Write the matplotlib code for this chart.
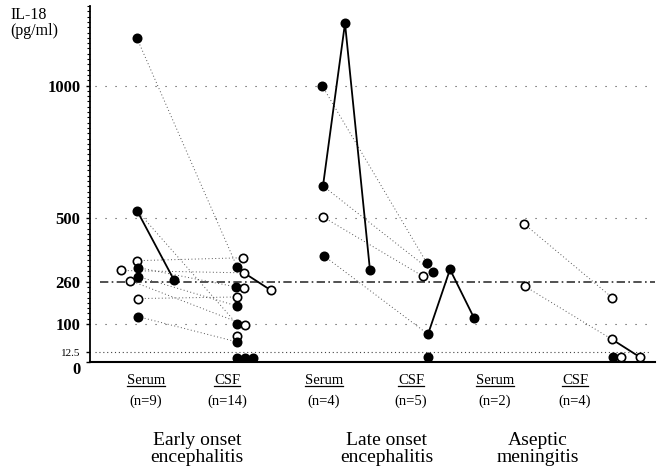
"""IL-18 in serum and CSF: paired dot plot (scanned journal figure)."""
import matplotlib
matplotlib.use("Agg")
import matplotlib.pyplot as plt
from matplotlib.lines import Line2D
import numpy as np

plt.rcParams["font.family"] = ["Liberation Serif", "DejaVu Serif"]

# ---------------------------------------------------------------------------
# Data (pg/ml).  fill: 1 = filled circle, 0 = open circle
# ---------------------------------------------------------------------------
early_serum = [1178, 528, 339, 313, 302, 279, 264, 196, 128]
early_serum_fill = [1, 1, 0, 1, 0, 1, 0, 0, 1]
early_csf = [350, 316, 293, 240, 236, 202, 168, 100, 97, 63, 44, 5, 5, 5]
early_csf_fill = [0, 1, 0, 1, 0, 0, 1, 1, 0, 0, 1, 1, 1, 1]
# (serum index, csf index) pairs joined by dotted lines
early_pairs = [(0, 1), (1, 7), (2, 0), (3, 3), (4, 2), (5, 6), (6, 8), (7, 5), (8, 10)]

late_serum = [1000, 621, 504, 357]
late_serum_fill = [1, 1, 0, 1]
late_csf = [329, 295, 280, 68, 6]
late_csf_fill = [1, 1, 0, 1, 1]
late_pairs = [(0, 0), (1, 1), (2, 2), (3, 3)]

asep_serum = [478, 242]
asep_serum_fill = [0, 0]
asep_csf = [200, 52, 6, 6]
asep_csf_fill = [0, 0, 1, 0]
asep_pairs = [(0, 0), (1, 1)]

# serial samples joined by solid lines (first value = the plotted sample)
early_serum_follow = [528, 266]
early_csf_follow = [293, 227]
late_serum_follow = [621, 1235, 302]
late_csf_follow = [68, 306, 123]
asep_csf_follow = [52, 6]

col_labels = ["Serum", "CSF", "Serum", "CSF", "Serum", "CSF"]
col_n = ["(n=9)", "(n=14)", "(n=4)", "(n=5)", "(n=2)", "(n=4)"]
group_labels = ["Early onset\nencephalitis", "Late onset\nencephalitis", "Aseptic\nmeningitis"]

y_ticks = [0, 12.5, 100, 260, 500, 1000]
grid_levels = [12.5, 100, 500, 1000]
cutoff = 260

# ---------------------------------------------------------------------------
# Layout (x in pixel-like units of the original figure)
# ---------------------------------------------------------------------------
COL_X = [137, 237, 323, 428, 524, 612]
early_serum_dx = [0, 0, 0, 1, -16, 1, -7, 1, 1]
early_csf_dx = [6, 0, 7, -1, 7, 0, 0, 0, 8, 0, 0, 0, 8, 16]
late_serum_dx = [-1, 0, 0, 1]
late_csf_dx = [-1, 5, -5, 0, 0]
asep_serum_dx = [0, 1]
asep_csf_dx = [0, 0, 1, 9]
follow_x = {
    "early_serum": [137, 174],
    "early_csf": [244, 271],
    "late_serum": [323, 345, 370],
    "late_csf": [428, 450, 474],
    "asep_csf": [612, 640],
}
LABEL_X = [146, 227, 324, 411, 495, 575]
GROUP_X = [197, 387, 538]

# piecewise axis: 0-12.5-100 expanded, linear above 100
V_ANCH = [0, 12.5, 100, 1300]
P_ANCH = [0, 10, 38, 356]


def fwd(v):
    return np.interp(v, V_ANCH, P_ANCH)


def inv(p):
    return np.interp(p, P_ANCH, V_ANCH)


W, H = 660, 472
fig = plt.figure(figsize=(W / 100, H / 100), dpi=100)
ax = fig.add_axes([90 / W, 110 / H, 565 / W, 356 / H])
ax.set_yscale("function", functions=(fwd, inv))
ax.set_xlim(90, 655)
ax.set_ylim(0, 1300)

# reference lines
for lv in grid_levels:
    dash = (0, (1, 2.5)) if lv == 12.5 else (0, (1, 8))
    ax.plot([95, 650], [lv, lv], color="#444444", lw=0.8, linestyle=dash, zorder=1)
ax.plot([100, 655], [cutoff, cutoff], color="#333333", lw=1.2,
        linestyle=(0, (5, 2, 1, 2)), zorder=1)

DOT = dict(color="#555555", lw=0.7, linestyle=(0, (1, 2.5)), zorder=2)


def draw_pairs(serum, s_dx, s_col, csf, c_dx, c_col, pairs):
    for si, ci in pairs:
        ax.plot([COL_X[s_col] + s_dx[si], COL_X[c_col] + c_dx[ci]],
                [serum[si], csf[ci]], **DOT)


def draw_points(vals, fills, dx, col):
    for v, f, d in zip(vals, fills, dx):
        ax.plot(COL_X[col] + d, v, "o", ms=6, mew=1.2, mec="black",
                mfc="black" if f else "white", zorder=5)


draw_pairs(early_serum, early_serum_dx, 0, early_csf, early_csf_dx, 1, early_pairs)
draw_pairs(late_serum, late_serum_dx, 2, late_csf, late_csf_dx, 3, late_pairs)
draw_pairs(asep_serum, asep_serum_dx, 4, asep_csf, asep_csf_dx, 5, asep_pairs)

# serial samples (solid)
follow = [
    ("early_serum", early_serum_follow, "black"),
    ("early_csf", early_csf_follow, "white"),
    ("late_serum", late_serum_follow, "black"),
    ("late_csf", late_csf_follow, "black"),
    ("asep_csf", asep_csf_follow, "white"),
]
for key, vals, fc in follow:
    xs = follow_x[key]
    ax.plot(xs, vals, color="black", lw=1.3, zorder=3)
    ax.plot(xs[1:], vals[1:], "o", ms=6, mew=1.2, mec="black", mfc=fc, zorder=5)

draw_points(early_serum, early_serum_fill, early_serum_dx, 0)
draw_points(early_csf, early_csf_fill, early_csf_dx, 1)
draw_points(late_serum, late_serum_fill, late_serum_dx, 2)
draw_points(late_csf, late_csf_fill, late_csf_dx, 3)
draw_points(asep_serum, asep_serum_fill, asep_serum_dx, 4)
draw_points(asep_csf, asep_csf_fill, asep_csf_dx, 5)

# axes styling
for s in ["top", "right"]:
    ax.spines[s].set_visible(False)
ax.spines["left"].set_linewidth(1.3)
ax.spines["bottom"].set_linewidth(1.5)
ax.set_xticks([])
ax.set_yticks(y_ticks)
ax.set_yticklabels([str(t) for t in y_ticks])
ax.set_yticks([v for v in range(120, 1301, 20)], minor=True)
ax.tick_params(axis="y", which="major", length=3, width=1, pad=4, labelsize=12)
ax.tick_params(axis="y", which="minor", length=2, width=0.8)
for lab, t in zip(ax.get_yticklabels(), y_ticks):
    if t == 12.5:
        lab.set_fontsize(8)
    else:
        lab.set_fontweight("bold")
    if t == 0:
        lab.set_va("top")

fig.text(10 / W, 1 - 23 / H, "IL-18\n(pg/ml)", fontsize=11.5, ha="left",
         va="center", linespacing=1.0)


def fx(x):
    return x / W


def fy(y):
    return 1 - y / H


label_objs = []
for x, lab, n in zip(LABEL_X, col_labels, col_n):
    t = fig.text(fx(x), fy(381), lab, fontsize=10.5, ha="center", va="center")
    label_objs.append(t)
    fig.text(fx(x), fy(401), n, fontsize=10.5, ha="center", va="center")
for x, g in zip(GROUP_X, group_labels):
    fig.text(fx(x), fy(449), g, fontsize=14, ha="center", va="center",
             linespacing=0.95)

# underline the column labels
fig.canvas.draw()
r = fig.canvas.get_renderer()
for t in label_objs:
    bb = t.get_window_extent(renderer=r)
    yline = bb.y0 + 2
    fig.add_artist(Line2D([bb.x0 / W, bb.x1 / W], [yline / H, yline / H],
                          color="black", lw=0.9))

fig.savefig("out.png", dpi=100)
